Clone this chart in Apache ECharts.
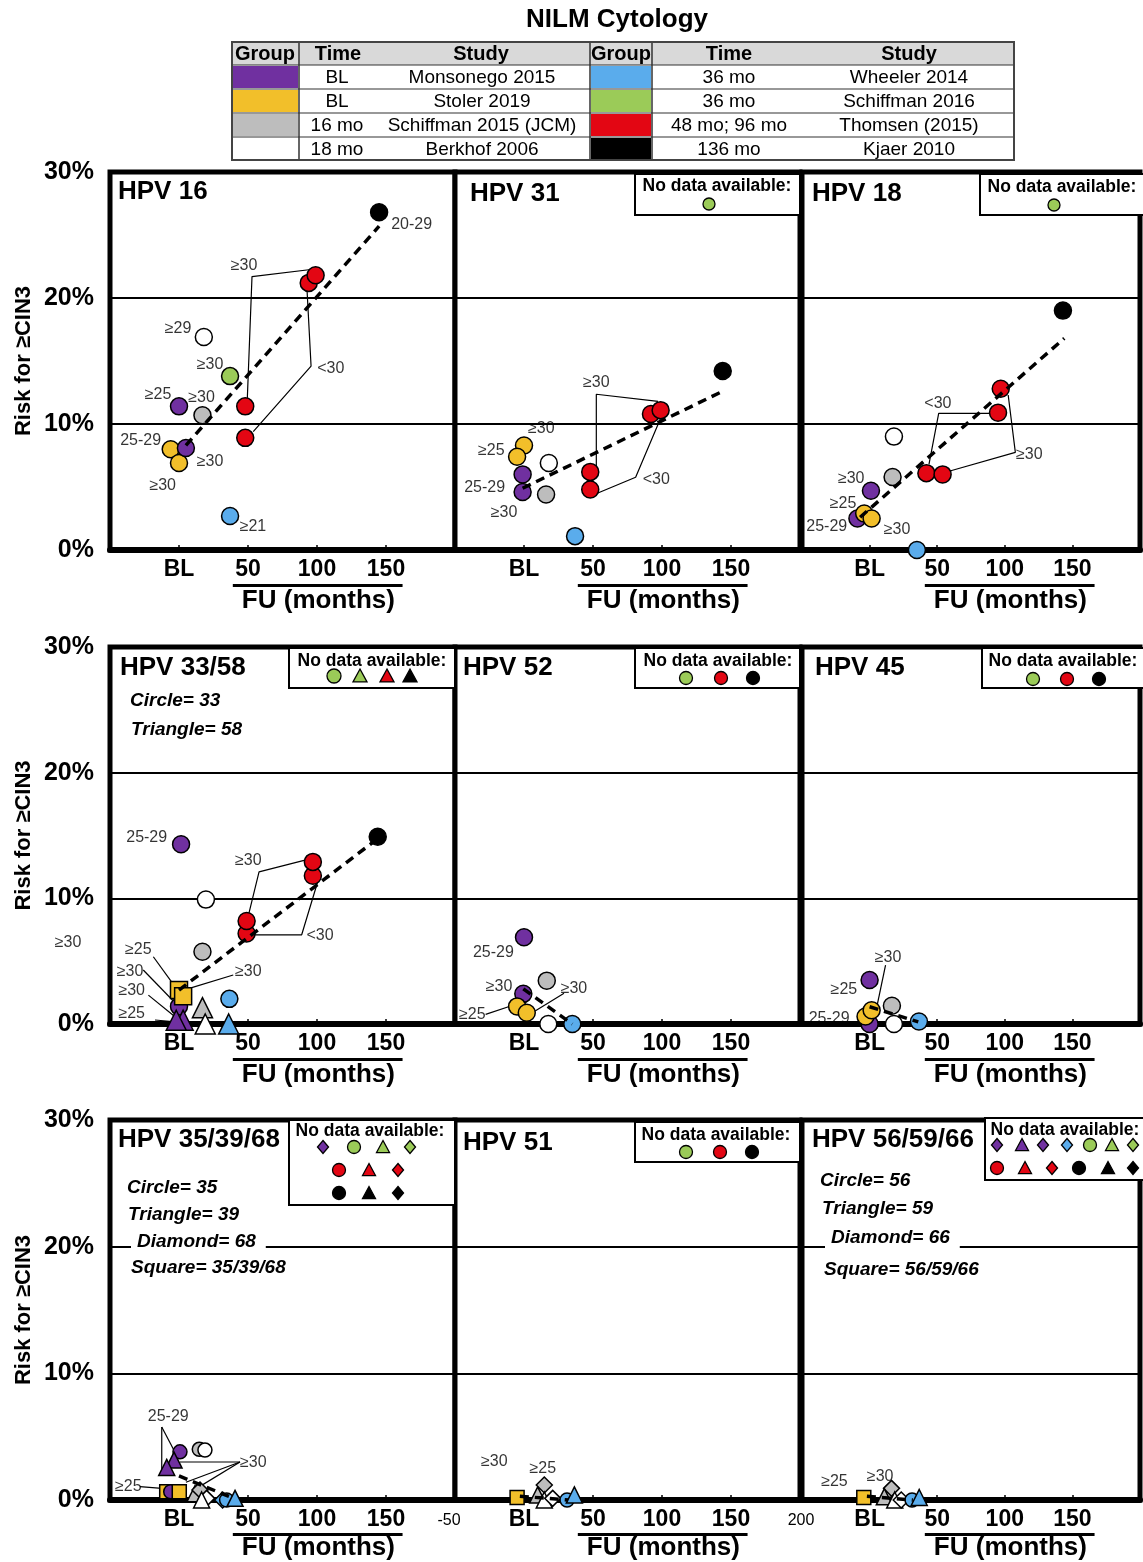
<!DOCTYPE html>
<html><head><meta charset="utf-8">
<script src="https://cdn.jsdelivr.net/npm/echarts@6/dist/echarts.min.js"></script>
<style>html,body{margin:0;padding:0;background:#fff}#c{width:1143px;height:1562px}</style>
</head><body><div id="c"></div>
<script>
const FONT = '"Liberation Sans", Arial, sans-serif';
const groupColors = {M:'#7030a0', St:'#f2bf2a', S15:'#bdbdbd', B:'#ffffff', W:'#5aacec', S16:'#9bcb58', T:'#e30613', K:'#000000'};

// ---- legend table ----
const tableHeader = ['Group','Time','Study'];
const leftGroups = ['M','St','S15','B'];
const leftTimes = ['BL','BL','16 mo','18 mo'];
const leftStudies = ['Monsonego 2015','Stoler 2019','Schiffman 2015 (JCM)','Berkhof 2006'];
const rightGroups = ['W','S16','T','K'];
const rightTimes = ['36 mo','36 mo','48 mo; 96 mo','136 mo'];
const rightStudies = ['Wheeler 2014','Schiffman 2016','Thomsen (2015)','Kjaer 2010'];

// ---- x tick labels ----
const xTickLabels = {0:'BL', 50:'50', 100:'100', 150:'150'};

// ---- data: [group, months, risk %, shape] ----
const hpv16Points = [['K',145,26.8,'c'],['T',94,21.2,'c'],['T',99,21.8,'c'],['T',48,11.4,'c'],['T',48,8.9,'c'],['B',18,16.9,'c'],['S16',37,13.8,'c'],['M',0,11.4,'c'],['S15',17,10.7,'c'],['St',-6,8.0,'c'],['St',0,6.9,'c'],['M',5,8.1,'c'],['W',37,2.7,'c']];
const hpv16Trend = [[5,8.3],[145,25.7]];
const hpv16Leaders = [[[49.3,11.45],[52.9,21.7],[98.6,22.3]],[[53.8,9.4],[95.7,14.6],[92.5,21.2]]];
const hpv16Notes = [[168.6,25.8,'20-29'],[47.1,22.6,'≥30'],[-0.7,17.6,'≥29'],[22.5,14.7,'≥30'],[110,14.4,'<30'],[-15.2,12.3,'≥25'],[16.4,12.1,'≥30'],[-27.8,8.65,'25-29'],[22.5,7.0,'≥30'],[-11.8,5.1,'≥30'],[53.6,1.85,'≥21']];

const hpv31Points = [['K',144,14.2,'c'],['T',92,10.8,'c'],['T',99,11.1,'c'],['T',48,6.2,'c'],['T',48,4.8,'c'],['St',0,8.3,'c'],['St',-5,7.4,'c'],['B',18,6.9,'c'],['M',-1,6.0,'c'],['M',-1,4.6,'c'],['S15',16,4.4,'c'],['W',37,1.1,'c']];
const hpv31Trend = [[-1,4.9],[144,12.6]];
const hpv31Leaders = [[[52.4,6.35],[52.4,12.36],[97.1,11.8]],[[53.1,4.5],[80.9,5.77],[99,10.45]]];
const hpv31Notes = [[52.4,13.3,'≥30'],[12.5,9.65,'≥30'],[-23.7,7.9,'≥25'],[-28.5,4.95,'25-29'],[-14.5,2.96,'≥30'],[95.9,5.55,'<30']];

const hpv18Points = [['K',143,19.0,'c'],['T',97,12.8,'c'],['T',95,10.9,'c'],['T',42,6.1,'c'],['T',54,6.0,'c'],['B',18,9.0,'c'],['S15',17,5.8,'c'],['M',1,4.7,'c'],['M',-9,2.5,'c'],['St',-4,2.9,'c'],['St',1.5,2.5,'c'],['W',35,0,'c']];
const hpv18Trend = [[-7,2.6],[144,16.8]];
const hpv18Leaders = [[[43.9,6.8],[51.1,10.85],[90.4,10.85]],[[59.4,6.27],[107.8,7.75],[102.5,12.3]]];
const hpv18Notes = [[50.5,11.6,'<30'],[118.1,7.6,'≥30'],[-13.6,5.7,'≥30'],[-19.6,3.65,'≥25'],[-31.7,1.85,'25-29'],[20.3,1.65,'≥30']];

const hpv3358Points = [['K',144,14.9,'c'],['T',97,11.8,'c'],['T',97,12.9,'c'],['T',49,7.2,'c'],['T',49,8.2,'c'],['M',1.5,14.3,'c'],['B',19.5,9.9,'c'],['S15',17,5.75,'c'],['W',36.5,2.0,'c'],['M',0,1.4,'c'],['M',3,0.3,'t'],['M',-2,0.3,'t'],['St',0,2.7,'s'],['St',3,2.2,'s'],['S15',17,1.3,'t'],['B',19,0,'t'],['W',36,0,'t']];
const hpv3358Trend = [[0,2.7],[141,14.5]];
const hpv3358Leaders = [[[-18.6,5.35],[-4.6,3.24]],[[-25.9,4.3],[-3.6,1.77]],[[-22.2,2.3],[-2.9,0.58]],[[-17.4,0.32],[-2.9,0.18]],[[39.3,3.9],[5.1,2.76]],[[50.2,8.6],[58,12.1],[97,13.2]],[[53.8,7.1],[88.9,7.1],[101,11.5]]];
const hpv3358Notes = [[-23.4,14.8,'25-29'],[50.2,13.0,'≥30'],[102.2,7.0,'<30'],[-29.5,5.94,'≥25'],[-35.5,4.16,'≥30'],[50.2,4.16,'≥30'],[-34.3,2.63,'≥30'],[-34.3,0.8,'≥25'],[-80.4,6.44,'≥30']];

const hpv52Points = [['M',0,6.9,'c'],['S15',16.5,3.45,'c'],['M',-0.5,2.4,'c'],['St',-5,1.4,'c'],['St',2,0.9,'c'],['B',17.6,0,'c'],['W',35,0,'c']];
const hpv52Trend = [[-0.5,2.8],[35,0]];
const hpv52Leaders = [[[-27.8,0.77],[-9.6,1.43]],[[29,2.44],[7.2,0.98]]];
const hpv52Notes = [[-22.2,5.67,'25-29'],[-18.1,3.0,'≥30'],[36.2,2.8,'≥30'],[-37.5,0.77,'≥25']];

const hpv45Points = [['M',0,3.5,'c'],['S15',16.5,1.45,'c'],['M',0,0,'c'],['St',-3,0.6,'c'],['St',1.5,1.1,'c'],['B',18,0,'c'],['W',36.5,0.2,'c']];
const hpv45Trend = [[0,1.37],[36,0.17]];
const hpv45Leaders = [[[11.8,4.69],[5.1,1.25]]];
const hpv45Notes = [[13.6,5.3,'≥30'],[-19,2.76,'≥25'],[-29.9,0.45,'25-29']];

const hpv353968Points = [['S15',14.7,4.0,'c'],['B',18.8,3.94,'c'],['M',0.7,3.8,'c'],['M',-3.6,3.15,'t'],['M',-8.9,2.57,'t'],['St',-8.9,0.65,'s'],['M',-6,0.65,'c'],['St',0.2,0.65,'s'],['S15',11.6,0.5,'t'],['S15',15.2,0.79,'d'],['B',20,0.13,'d'],['B',16.4,0,'t'],['W',31.6,0,'d'],['W',34.5,0,'c'],['W',40.6,0.13,'t']];
const hpv353968Trend = [[0,1.9],[38,0.2]];
const hpv353968Leaders = [[[-12.5,5.77],[-12.5,2.23]],[[-12.5,5.77],[-0.5,3.28]],[[44.2,3.0],[0.7,3.0]],[[44.2,3.0],[5,1.4]],[[44.2,3.0],[11,0.8]],[[-28.3,1.05],[-12.5,0.92]]];
const hpv353968Notes = [[-7.8,6.6,'25-29'],[53.8,2.94,'≥30'],[-36.7,1.05,'≥25']];

const hpv51Points = [['St',-5,0.2,'s'],['S15',14.7,1.18,'d'],['S15',9.9,0.4,'t'],['B',14.7,0,'t'],['B',20.8,0.13,'d'],['W',31.2,0,'c'],['W',36.5,0.4,'t']];
const hpv51Trend = [[-3,0.3],[32,0]];
const hpv51Leaders = [];
const hpv51Notes = [[-21.5,3.0,'≥30'],[13.6,2.5,'≥25']];

const hpv565966Points = [['St',-4.3,0.2,'s'],['S15',16.2,0.92,'d'],['S15',10.9,0.26,'t'],['B',18.6,0,'t'],['B',23.4,0,'d'],['W',31.4,0,'c'],['W',36.7,0.2,'t']];
const hpv565966Trend = [[-2,0.3],[32,0]];
const hpv565966Leaders = [];
const hpv565966Notes = [[-26,1.44,'≥25'],[7.8,1.83,'≥30']];

// no-data legend contents
const missing31 = [[['S16','c']]];
const missing18 = [[['S16','c']]];
const missing3358 = [[['S16','c'],['S16','t'],['T','t'],['K','t']]];
const missing52 = [[['S16','c'],['T','c'],['K','c']]];
const missing45 = [[['S16','c'],['T','c'],['K','c']]];
const missing353968 = [[['M','d'],['S16','c'],['S16','t'],['S16','d']],[['T','c'],['T','t'],['T','d']],[['K','c'],['K','t'],['K','d']]];
const missing51 = [[['S16','c'],['T','c'],['K','c']]];
const missing565966 = [[['M','d'],['M','t'],['M','d'],['W','d'],['S16','c'],['S16','t'],['S16','d']],[['T','c'],['T','t'],['T','d'],['K','c'],['K','t'],['K','d']]];

const panelTitles = ['HPV 16','HPV 31','HPV 18','HPV 33/58','HPV 52','HPV 45','HPV 35/39/68','HPV 51','HPV 56/59/66'];
const shapeKeys = ['Circle= 33','Triangle= 58','Circle= 35','Triangle= 39','Diamond= 68','Square= 35/39/68','Circle= 56','Triangle= 59','Diamond= 66','Square= 56/59/66'];

// ---- layout ----
const colLeft = [110,455,802], GW = 345;
const rowTop = [172,647,1120], rowH = [378,377,380];

const panels = [
  {p:hpv16Points,t:hpv16Trend,l:hpv16Leaders,n:hpv16Notes},
  {p:hpv31Points,t:hpv31Trend,l:hpv31Leaders,n:hpv31Notes},
  {p:hpv18Points,t:hpv18Trend,l:hpv18Leaders,n:hpv18Notes},
  {p:hpv3358Points,t:hpv3358Trend,l:hpv3358Leaders,n:hpv3358Notes},
  {p:hpv52Points,t:hpv52Trend,l:hpv52Leaders,n:hpv52Notes},
  {p:hpv45Points,t:hpv45Trend,l:hpv45Leaders,n:hpv45Notes},
  {p:hpv353968Points,t:hpv353968Trend,l:hpv353968Leaders,n:hpv353968Notes},
  {p:hpv51Points,t:hpv51Trend,l:hpv51Leaders,n:hpv51Notes},
  {p:hpv565966Points,t:hpv565966Trend,l:hpv565966Leaders,n:hpv565966Notes}
];

const symName = {c:'circle',t:'triangle',d:'diamond',s:'rect'};
const sizeBig = {c:17,t:20,d:18,s:17};
const sizeSmall = {c:14,t:16,d:16,s:14};

const grids=[], xAxes=[], yAxes=[], series=[];
panels.forEach((pn,i)=>{
  const r = Math.floor(i/3), c = i%3;
  grids.push({left:colLeft[c], top:rowTop[r], width:GW, height:rowH[r], show:true, borderColor:'#000', borderWidth:5, backgroundColor:'#fff'});
  xAxes.push({gridIndex:i, type:'value', min:-50, max:200, interval:50,
    axisLine:{show:true, onZero:false, lineStyle:{color:'#000', width:6}},
    axisTick:{show:true, inside:true, length:5, lineStyle:{color:'#000', width:1.5}},
    axisLabel:{formatter:v=>xTickLabels[v]||'', fontSize:23, fontWeight:'bold', color:'#000', margin:8, fontFamily:FONT},
    splitLine:{show:false}});
  yAxes.push({gridIndex:i, type:'value', min:0, max:30, interval:10,
    axisLine:{show:false}, axisTick:{show:false},
    axisLabel:{show:c===0, formatter:v=>v+'%', fontSize:25, fontWeight:'bold', color:'#000', margin:16, fontFamily:FONT},
    splitLine:{show:true, lineStyle:{color:'#000', width:2}},
    name:c===0?'Risk for ≥CIN3':'', nameLocation:'middle', nameGap:75,
    nameTextStyle:{fontSize:22, fontWeight:'bold', color:'#000', fontFamily:FONT}});
  const sz = r===2 ? sizeSmall : sizeBig;
  pn.l.forEach(coords=>{
    series.push({type:'line', xAxisIndex:i, yAxisIndex:i, data:coords, symbol:'none', silent:true, z:1, clip:false,
      lineStyle:{color:'#000', width:1.2}, animation:false});
  });
  series.push({type:'scatter', xAxisIndex:i, yAxisIndex:i, z:2, clip:false, animation:false,
    data:pn.p.map(d=>({value:[d[1],d[2]], symbol:symName[d[3]], symbolSize:sz[d[3]],
      itemStyle:{color:groupColors[d[0]], borderColor:'#000', borderWidth:1.5, opacity:1}}))});
  series.push({type:'line', xAxisIndex:i, yAxisIndex:i, data:pn.t, symbol:'none', z:3, clip:false, animation:false,
    lineStyle:{color:'#000', width:3.5, type:[9,6]}});
  series.push({type:'scatter', xAxisIndex:i, yAxisIndex:i, z:4, clip:false, animation:false, silent:true,
    symbolSize:1, itemStyle:{color:'rgba(0,0,0,0)'},
    label:{show:true, position:'inside', formatter:'{b}', color:'#000', fontSize:16, fontFamily:FONT},
    data:pn.n.map(n=>({name:n[2], value:[n[0],n[1]]}))});
});

// ---- graphics ----
const G = [];
function txt(x,y,text,o){
  o=o||{};
  return {type:'text', x:x, y:y, z:100, style:{text:text, fill:'#000', fontSize:o.size||15, fontWeight:o.weight||'normal', fontStyle:o.style||'normal', fontFamily:FONT,
    align:o.align||'center', textAlign:o.align||'center', verticalAlign:'middle', textVerticalAlign:'middle',
    backgroundColor:o.bg, padding:o.pad}};
}
function rect(x,y,w,h,fill,stroke,lw){ return {type:'rect', z:99, shape:{x:x,y:y,width:w,height:h}, style:{fill:fill, stroke:stroke||null, lineWidth:lw||0}}; }
function lineG(x1,y1,x2,y2,lw,col){ return {type:'line', z:99, shape:{x1:x1,y1:y1,x2:x2,y2:y2}, style:{stroke:col||'#000', lineWidth:lw}}; }
function symG(shape,g,cx,cy,s){
  const st={fill:groupColors[g], stroke:'#000', lineWidth:1.3};
  const h=s/2;
  if(shape==='c') return {type:'circle', z:101, shape:{cx:cx,cy:cy,r:h}, style:st};
  if(shape==='t') return {type:'polygon', z:101, shape:{points:[[cx,cy-h],[cx+h,cy+h*0.85],[cx-h,cy+h*0.85]]}, style:st};
  return {type:'polygon', z:101, shape:{points:[[cx,cy-h],[cx+h*0.85,cy],[cx,cy+h],[cx-h*0.85,cy]]}, style:st};
}

// title
G.push(txt(617,20,'NILM Cytology',{size:26, weight:'bold'}));
// table
const tx0=232, tx1=1014, ty=[42,65,89,113,137,160];
G.push(rect(tx0,ty[0],tx1-tx0,ty[1]-ty[0],'#d9d9d9'));
const halves = [
  {g0:232,g1:299,tc:337,sc:482,groups:leftGroups,times:leftTimes,studies:leftStudies,hc:[265,338,481]},
  {g0:590,g1:652,tc:729,sc:909,groups:rightGroups,times:rightTimes,studies:rightStudies,hc:[621,729,909]}
];
halves.forEach(h=>{
  tableHeader.forEach((t,k)=>G.push(txt(h.hc[k],(ty[0]+ty[1])/2+1,t,{size:20, weight:'bold'})));
  h.groups.forEach((g,k)=>{
    G.push(rect(h.g0+1,ty[k+1]+1,h.g1-h.g0-2,ty[k+2]-ty[k+1]-2,groupColors[g]));
    G.push(txt(h.tc,(ty[k+1]+ty[k+2])/2+1,h.times[k],{size:19}));
    G.push(txt(h.sc,(ty[k+1]+ty[k+2])/2+1,h.studies[k],{size:19}));
  });
});
for(let k=1;k<ty.length-1;k++) G.push(lineG(tx0,ty[k],tx1,ty[k],1.2,'#333'));
[299,590,652].forEach(x=>G.push(lineG(x,ty[0],x,ty[5],1.5,'#333')));
G.push({type:'rect', z:102, shape:{x:tx0,y:ty[0],width:tx1-tx0,height:ty[5]-ty[0]}, style:{fill:null, stroke:'#444', lineWidth:2}});

// panel titles
const titlePos = [[118,192],[470,194],[812,194],[120,668],[463,668],[815,668],[118,1140],[463,1143],[812,1140]];
panelTitles.forEach((t,i)=>G.push(txt(titlePos[i][0],titlePos[i][1],t,{size:26, weight:'bold', align:'left'})));

// shape keys
const keyPos = [[130,701],[131,730],[127,1188],[128,1215],[131,1242],[131,1268],[820,1181],[822,1209],[825,1238],[824,1270]];
shapeKeys.forEach((t,i)=>{
  const isDia = t.indexOf('Diamond')===0;
  G.push(txt(keyPos[i][0],keyPos[i][1],t,{size:19, weight:'bold', style:'italic', align:'left', bg:isDia?'#fff':undefined, pad:isDia?[2,10,2,6]:undefined}));
});

// no-data boxes: [x0,y0,x1,y1, textX,textY, rows:[[y,[xs]]], legend, size]
const noDataBoxes = [
  [635,174,800,215, 717,186, [[204,[709]]], missing31, 12],
  [980,174,1150,215, 1062,187, [[205,[1054]]], missing18, 12],
  [289,648,455,688, 372,661, [[676,[334,360,387,410]]], missing3358, 14],
  [635,648,800,688, 718,661, [[678,[686,721,753]]], missing52, 13],
  [982,648,1150,688, 1063,661, [[679,[1033,1067,1099]]], missing45, 13],
  [289,1120,455,1205, 370,1131, [[1147,[323,354,383,410]],[1170,[339,369,398]],[1193,[339,369,398]]], missing353968, 13],
  [635,1122,800,1162, 716,1135, [[1152,[686,720,752]]], missing51, 13],
  [985,1118,1150,1180, 1065,1130, [[1145,[997,1022,1043,1067,1090,1112,1133]],[1168,[997,1025,1052,1079,1108,1133]]], missing565966, 13]
];
noDataBoxes.forEach(b=>{
  G.push({type:'rect', z:98, shape:{x:b[0],y:b[1],width:b[2]-b[0],height:b[3]-b[1]}, style:{fill:'#fff', stroke:'#000', lineWidth:2}});
  G.push(txt(b[4],b[5],'No data available:',{size:17.5, weight:'bold'}));
  b[6].forEach((row,ri)=>{
    row[1].forEach((x,k)=>{ const it=b[7][ri][k]; if(it) G.push(symG(it[1],it[0],x,row[0],b[8])); });
  });
});

// FU (months) underline + label
for(let r=0;r<3;r++) for(let c=0;c<3;c++){
  const ax = rowTop[r]+rowH[r];
  const x1 = colLeft[c]+(39+50)/250*GW, x2 = colLeft[c]+(162+50)/250*GW;
  const ul = r===2?33:34, fu = r===2?48:51;
  G.push(rect(x1,ax+ul,x2-x1,3,'#000'));
  G.push(txt(colLeft[c]+(101+50)/250*GW, ax+fu, 'FU (months)', {size:26, weight:'bold'}));
}
// stray tick labels under HPV 51
G.push(txt(449,1521,'-50',{size:16}));
G.push(txt(801,1521,'200',{size:16}));

const chart = echarts.init(document.getElementById('c'), null, {renderer:'canvas'});
chart.setOption({animation:false, backgroundColor:'#fff', textStyle:{fontFamily:FONT},
  grid:grids, xAxis:xAxes, yAxis:yAxes, series:series, graphic:{elements:G}});
</script></body></html>
